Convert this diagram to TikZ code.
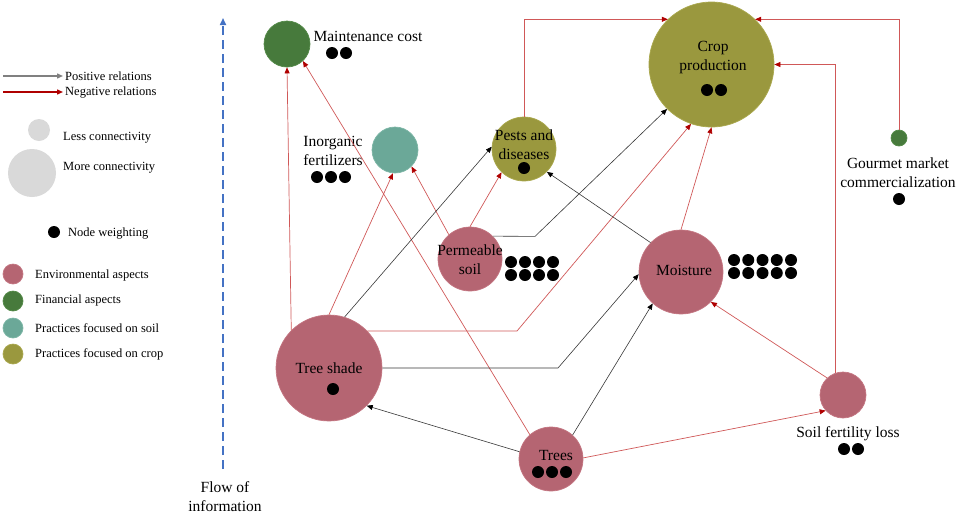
\documentclass[tikz,border=0pt]{standalone}
\usepackage{fontspec}
\setmainfont{Liberation Serif}
\usetikzlibrary{arrows.meta}
\definecolor{env}{RGB}{181,101,114}
\definecolor{envb}{RGB}{196,118,130}
\definecolor{fin}{RGB}{71,122,60}
\definecolor{finb}{RGB}{84,138,72}
\definecolor{soilc}{RGB}{107,168,152}
\definecolor{soilb}{RGB}{125,182,166}
\definecolor{cropc}{RGB}{154,152,62}
\definecolor{cropb}{RGB}{170,168,78}
\definecolor{negl}{RGB}{208,88,88}
\definecolor{negt}{RGB}{175,0,0}
\definecolor{posl}{RGB}{55,55,55}
\definecolor{flowc}{RGB}{68,114,196}
\definecolor{lgray}{RGB}{217,217,217}
\begin{document}
\begin{tikzpicture}[x=1pt,y=-1pt,
  bub/.style={circle,inner sep=0pt,minimum size=#1},
  envn/.style={bub=#1,fill=env,draw=envb,line width=0.7pt},
  finn/.style={bub=#1,fill=fin,draw=finb,line width=0.7pt},
  soiln/.style={bub=#1,fill=soilc,draw=soilb,line width=0.7pt},
  cropn/.style={bub=#1,fill=cropc,draw=cropb,line width=0.7pt},
  negrel/.style={draw=negl,line width=0.7pt,-{Triangle[length=6pt,width=5pt,color=negt,fill=negt]}},
  posrel/.style={draw=posl,line width=0.6pt,-{Triangle[length=6pt,width=5pt,color=black,fill=black]}},
  lbl/.style={font=\fontsize{15.5}{19}\selectfont,align=center,inner sep=0pt},
  leg/.style={font=\fontsize{12.5}{14}\selectfont,anchor=west,inner sep=0pt},
  wdot/.style={fill=black}]
\useasboundingbox (0,0) rectangle (960,515);

% ---------- legend ----------
\coordinate (lp1) at (3,76); \coordinate (lp2) at (63,76);
\coordinate (ln1) at (3,92); \coordinate (ln2) at (63,92);
\draw[draw=gray,line width=1.4pt,-{Triangle[length=6pt,width=5pt,color=gray,fill=gray]}] (lp1) -- (lp2);
\draw[draw=negt,line width=1.4pt,-{Triangle[length=6pt,width=5pt,color=negt,fill=negt]}] (ln1) -- (ln2);
\node[leg] (tpos) at (65,76) {Positive relations};
\node[leg] (tneg) at (65,93) {Negative relations};
\node[bub=22pt,fill=lgray] (lless) at (39,130) {};
\node[bub=48pt,fill=lgray] (lmore) at (32,173) {};
\node[leg] (tless) at (63,138) {Less connectivity};
\node[leg] (tmore) at (63,168) {More connectivity};
\fill[wdot] (54,232) circle (6);
\node[leg] (tnw) at (68,234) {Node weighting};
\node[envn=20pt] (lenv) at (13,274) {};
\node[finn=20pt] (lfin) at (13,301) {};
\node[soiln=20pt] (lsoil) at (13,328) {};
\node[cropn=20pt] (lcrop) at (13,354) {};
\node[leg] (tenv) at (35,275) {Environmental aspects};
\node[leg] (tfin) at (35,300) {Financial aspects};
\node[leg] (tsoil) at (35,328) {Practices focused on soil};
\node[leg] (tcrop) at (35,354) {Practices focused on crop};

% ---------- flow of information ----------
\coordinate (fb) at (223,469); \coordinate (ft) at (223,18);
\draw[flowc,line width=1.6pt,dash pattern=on 9pt off 5pt,-{Triangle[length=7pt,width=6pt]}] (fb) -- (ft);
\node[lbl] (tflow) at (225,497) {Flow of\\information};

% ---------- nodes ----------
\node[finn=46pt] (mc) at (287,44) {};
\node[soiln=46pt] (inf) at (395,150) {};
\node[cropn=64pt] (pd) at (524,149) {};
\node[cropn=125pt] (cp) at (711.5,64.5) {};
\node[finn=16pt] (gm) at (899,138) {};
\node[envn=64pt] (ps) at (470,259) {};
\node[envn=84pt] (mo) at (681,272) {};
\node[envn=106pt] (ts) at (329,368) {};
\node[envn=64pt] (tr) at (551,459) {};
\node[envn=46pt] (sf) at (843,395) {};

% ---------- labels ----------
\node[lbl] (tmc) at (368,36) {Maintenance cost};
\fill[wdot] (332,53) circle (6) (346,53) circle (6);
\node[lbl] (tinf) at (333,151) {Inorganic\\fertilizers};
\fill[wdot] (317,177) circle (6) (331,177) circle (6) (345,177) circle (6);
\node[lbl] (tpd) at (524,144.5) {Pests and\\diseases};
\fill[wdot] (524,168) circle (6);
\node[lbl] (tcp) at (713,57.5) {Crop\\production};
\fill[wdot] (707,90) circle (6) (721,90) circle (6);
\node[lbl] (tgm) at (898,172.5) {Gourmet market\\commercialization};
\fill[wdot] (899,199) circle (6);
\node[lbl] (tps) at (470,259.5) {Permeable\\soil};
\foreach \i in {0,...,3}{\fill[wdot] (511+14*\i,262) circle (6) (511+14*\i,275) circle (6);}
\node[lbl] (tmo) at (684,270) {Moisture};
\foreach \i in {0,...,4}{\fill[wdot] (734+14.25*\i,260) circle (6) (734+14.25*\i,273) circle (6);}
\node[lbl] (tts) at (329,368) {Tree shade};
\fill[wdot] (333,389) circle (6);
\node[lbl] (ttr) at (556,455) {Trees};
\fill[wdot] (538,472) circle (6) (552,472) circle (6) (566,472) circle (6);
\node[lbl] (tsf) at (848,434) {Soil fertility loss};
\fill[wdot] (844,449) circle (6) (858,449) circle (6);

% ---------- negative relations ----------
\draw[negrel] (ts.135) -- (mc.south);
\draw[negrel] (tr.131) -- (mc.313);
\draw[negrel] (ts.north) -- (inf.265);
\draw[negrel] (ps.131) -- (inf.315);
\draw[negrel] (ps.north) -- (pd.226);
\draw[negrel] (pd.north) |- (cp.134);
\draw[negrel] (gm.north) |- (cp.46);
\draw[negrel] (sf.110) |- (cp.east);
\draw[negrel] (sf.133) -- (mo.315);
\draw[negrel] (tr.2) -- (sf.222);
\draw[negrel] (mo.north) -- (cp.south);
\coordinate (k1) at (517,331);
\draw[negrel] (ts.44) -- (k1) -- (cp.251.6);

% ---------- positive relations ----------
\draw[posrel] (ts.73) -- (pd.176);
\coordinate (k2) at (535,236.4);
\draw[posrel] (ps.45) -- (k2) -- (cp.225.6);
\draw[posrel] (mo.136) -- (pd.315);
\coordinate (k3) at (558,368);
\draw[posrel] (ts.east) -- (k3) -- (mo.183);
\draw[posrel] (tr.48) -- (mo.228);
\draw[posrel] (tr.167) -- (ts.315);
\end{tikzpicture}
\end{document}
